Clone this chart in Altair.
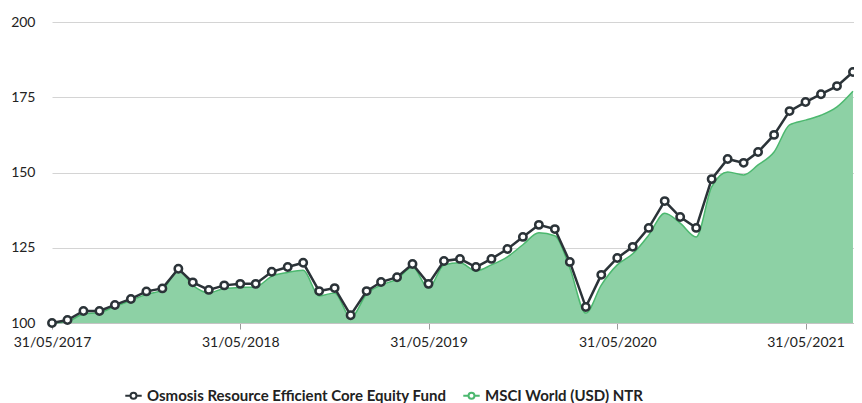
import altair as alt
import pandas as pd

dates = pd.date_range("2017-05-31", "2021-08-31", freq="ME").strftime("%Y-%m-%d").tolist()

fund = [100, 101, 104, 104, 106, 108, 110.5, 111.5, 118, 113.5, 111, 112.5,
        113, 113, 117, 118.6, 120, 110.6, 111.6, 102.6, 110.6, 113.6, 115.2, 119.6,
        113, 120.6, 121.3, 118.6, 121.3, 124.6, 128.6, 132.6, 131.2, 120.3, 105.3, 116,
        121.6, 125.3, 131.6, 140.5, 135.2, 131.6, 147.8, 154.5, 153.2, 156.8, 162.5, 170.4,
        173.4, 176, 178.7, 183.4]

msci = [100, 100.5, 103, 103.5, 105.5, 107.5, 109.5, 111, 117.5, 112.5, 110, 111.5,
        111.8, 112, 115.5, 116.8, 117.5, 109, 110, 101.8, 109.6, 112.6, 114.6, 118.6,
        111.6, 119.3, 120, 117.3, 119.3, 122, 126, 130, 129, 118.3, 103.3, 112.6,
        119.3, 123, 129.2, 136.5, 133.2, 128.6, 145.2, 150.2, 149.2, 152.5, 156.8, 165.8,
        167.4, 169, 171.8, 177]

series_names = ["Osmosis Resource Efficient Core Equity Fund", "MSCI World (USD) NTR"]
series_colors = ["#2b3338", "#4cb86f"]
tick_dates = ["2017-05-31", "2018-05-31", "2019-05-31", "2020-05-31", "2021-05-31"]

df_fund = pd.DataFrame({"date": dates, "value": fund, "series": series_names[0]})
df_msci = pd.DataFrame({"date": dates, "value": msci, "series": series_names[1]})
df_all = pd.concat([df_fund, df_msci])

FONT = "Lato"

x_enc = alt.X(
    "date:T",
    scale=alt.Scale(type="utc", nice=False,
                    domain=[alt.DateTime(year=2017, month=5, date=31, utc=True),
                            alt.DateTime(year=2021, month=9, date=2, utc=True)]),
    axis=alt.Axis(
        values=[alt.DateTime(year=int(d[:4]), month=int(d[5:7]), date=int(d[8:]), utc=True) for d in tick_dates],
        labelExpr="utcFormat(datum.value, '%d/%m/%Y')",
        title=None, grid=False, domainColor="#c4c4c4", tickColor="#9a9a9a",
        tickSize=6, labelPadding=6, labelFontSize=14, labelColor="#222222",
        labelFont=FONT, labelFlush=False,
    ),
)
y_scale = alt.Scale(domain=[100, 200], zero=False, nice=False)
y_axis = alt.Axis(values=[100, 125, 150, 175, 200], title=None, domain=False, ticks=False,
                  grid=True, gridColor="#d4d4d4", labelPadding=17, labelFontSize=14,
                  labelColor="#222222", labelFont=FONT)

area = alt.Chart(df_msci).mark_area(
    interpolate="monotone", color="#8dd1a5", opacity=1,
    line={"color": "#4cb86f", "strokeWidth": 1.5},
).encode(x=x_enc, y=alt.Y("value:Q", scale=y_scale, axis=y_axis), y2=alt.datum(100))

line = alt.Chart(df_fund).mark_line(color="#2b3338", strokeWidth=2.5).encode(
    x="date:T", y="value:Q")

points = alt.Chart(df_fund).mark_point(
    filled=True, fill="white", stroke="#2b3338", strokeWidth=2.5, size=55, opacity=1
).encode(x="date:T", y="value:Q")

legend_path = "M-1,0H-0.42M0.42,0H1M0.36,0A0.36,0.36,0,1,1,-0.36,0A0.36,0.36,0,1,1,0.36,0Z"

legend_layer = alt.Chart(df_all).mark_point(opacity=0).encode(
    x="date:T", y="value:Q",
    stroke=alt.Stroke(
        "series:N",
        scale=alt.Scale(domain=series_names, range=series_colors),
        legend=alt.Legend(
            title=None, orient="none", direction="horizontal",
            legendX=72, legendY=364, symbolType=legend_path, symbolSize=270,
            symbolFillColor="white", symbolStrokeWidth=2, symbolOpacity=1,
            labelFont=FONT, labelFontSize=15, labelFontWeight="bold", labelLimit=0,
            labelColor="#222222", columnPadding=12, labelOffset=4,
        ),
    ),
)

chart = alt.layer(area, line, points, legend_layer).properties(
    width=802, height=301,
    autosize=alt.AutoSizeParams(type="none"),
    padding={"left": 44, "top": 14, "right": 0, "bottom": 80},
).configure_view(stroke=None)

chart.save("out.html", embed_options={"renderer": "svg", "actions": False})
